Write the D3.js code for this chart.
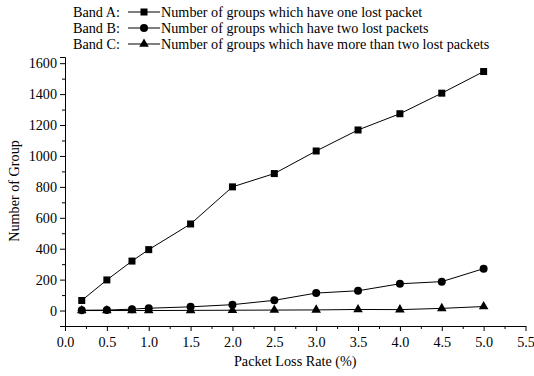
<!DOCTYPE html>
<html>
<head>
<meta charset="utf-8">
<script src="https://cdn.jsdelivr.net/npm/d3@7"></script>
<style>
  body { margin: 0; background: #fff; }
  svg text { font-family: "Liberation Serif", "Times New Roman", Times, serif !important; fill: #000; }
</style>
</head>
<body>
<div id="chart"></div>
<script>
// packet loss rate (%)
var lossRate = [0.2, 0.5, 0.8, 1.0, 1.5, 2.0, 2.5, 3.0, 3.5, 4.0, 4.5, 5.0];
// Band A: one lost packet
var bandA = [65, 198, 320, 394, 560, 800, 886, 1032, 1168, 1273, 1406, 1546];
// Band B: two lost packets
var bandB = [2, 3, 9, 15, 24, 38, 66, 113, 128, 173, 187, 271];
// Band C: more than two lost packets
var bandC = [0, 0, 0, 0, 1, 2, 3, 4, 7, 6, 14, 26];

var legendLabels = [
    "Number of groups which have one lost packet",
    "Number of groups which have two lost packets",
    "Number of groups which have more than two lost packets"
];
var bandNames = ["Band A:", "Band B:", "Band C:"];
var markers = ["square", "circle", "triangle"];
var xTicks = [0, 0.5, 1, 1.5, 2, 2.5, 3, 3.5, 4, 4.5, 5, 5.5];
var yTicks = [0, 200, 400, 600, 800, 1000, 1200, 1400, 1600];

var serif = '"Liberation Serif", "Times New Roman", Times, serif';
var fs = "14.2px";
var width = 534, height = 376;
var svg = d3.select("#chart").append("svg")
    .attr("width", width)
    .attr("height", height)
    .attr("font-family", serif);

var x = d3.scaleLinear().domain([0, 5.5]).range([65, 525.5]);
var y = d3.scaleLinear().domain([-100, 1640]).range([326, 57]);

// minor ticks
var xMinor = d3.range(0.25, 5.5, 0.5);
var yMinor = d3.range(-100, 1700, 200);

svg.append("g")
    .attr("transform", "translate(0," + y.range()[0] + ")")
    .call(d3.axisBottom(x).tickValues(xMinor).tickSize(3).tickSizeOuter(0).tickFormat(""))
    .call(g => g.select(".domain").remove());
svg.append("g")
    .attr("transform", "translate(" + x.range()[0] + ",0)")
    .call(d3.axisLeft(y).tickValues(yMinor).tickSize(3).tickSizeOuter(0).tickFormat(""))
    .call(g => g.select(".domain").remove());

var xAxis = svg.append("g")
    .attr("transform", "translate(0," + y.range()[0] + ")")
    .call(d3.axisBottom(x).tickValues(xTicks).tickSize(5).tickSizeOuter(0).tickFormat(d3.format(".1f")));
xAxis.attr("font-family", serif);
xAxis.selectAll("text").attr("font-size", fs).attr("dy", "0.95em");

var yAxis = svg.append("g")
    .attr("transform", "translate(" + x.range()[0] + ",0)")
    .call(d3.axisLeft(y).tickValues(yTicks).tickSize(5).tickSizeOuter(5).tickFormat(d3.format("d")));
yAxis.attr("font-family", serif);
yAxis.selectAll("text").attr("font-size", fs).attr("x", -8);

svg.selectAll(".domain, .tick line").attr("stroke", "#000").attr("stroke-width", 1);

// axis titles
svg.append("text")
    .attr("x", (x.range()[0] + x.range()[1]) / 2)
    .attr("y", 366)
    .attr("text-anchor", "middle")
    .attr("font-size", fs)
    .text("Packet Loss Rate (%)");
svg.append("text")
    .attr("transform", "translate(19," + 191 + ") rotate(-90)")
    .attr("text-anchor", "middle")
    .attr("font-size", fs)
    .text("Number of Group");

function drawMarker(sel, type) {
    if (type == "square") {
        sel.append("rect").attr("x", -3.5).attr("y", -3.5).attr("width", 7).attr("height", 7);
    } else if (type == "circle") {
        sel.append("circle").attr("r", 4);
    } else {
        sel.append("path").attr("d", d3.symbol(d3.symbolTriangle, 40)());
    }
}

var series = [bandA, bandB, bandC];
var line = d3.line()
    .x(function(d, i) { return x(lossRate[i]); })
    .y(function(d) { return y(d); });

// draw C first so A is on top
for (var s = series.length - 1; s >= 0; s--) {
    svg.append("path")
        .datum(series[s])
        .attr("fill", "none")
        .attr("stroke", "#000")
        .attr("stroke-width", 1)
        .attr("d", line);
    svg.selectAll(".m" + s)
        .data(series[s])
        .join("g")
        .attr("class", "m" + s)
        .attr("transform", function(d, i) { return "translate(" + x(lossRate[i]) + "," + y(d) + ")"; })
        .each(function() { drawMarker(d3.select(this), markers[s]); })
        .attr("fill", "#000");
}

// legend
var legend = svg.append("g");
bandNames.forEach(function(name, i) {
    var ly = 12 + i * 16;
    legend.append("text")
        .attr("x", 73).attr("y", ly).attr("dy", "0.35em")
        .attr("font-size", fs)
        .text(name);
    legend.append("line")
        .attr("x1", 128).attr("x2", 160)
        .attr("y1", ly).attr("y2", ly)
        .attr("stroke", "#000");
    var g = legend.append("g").attr("transform", "translate(144," + ly + ")").attr("fill", "#000");
    drawMarker(g, markers[i]);
    legend.append("text")
        .attr("x", 161).attr("y", ly).attr("dy", "0.35em")
        .attr("font-size", fs)
        .text(legendLabels[i]);
});
</script>
</body>
</html>
